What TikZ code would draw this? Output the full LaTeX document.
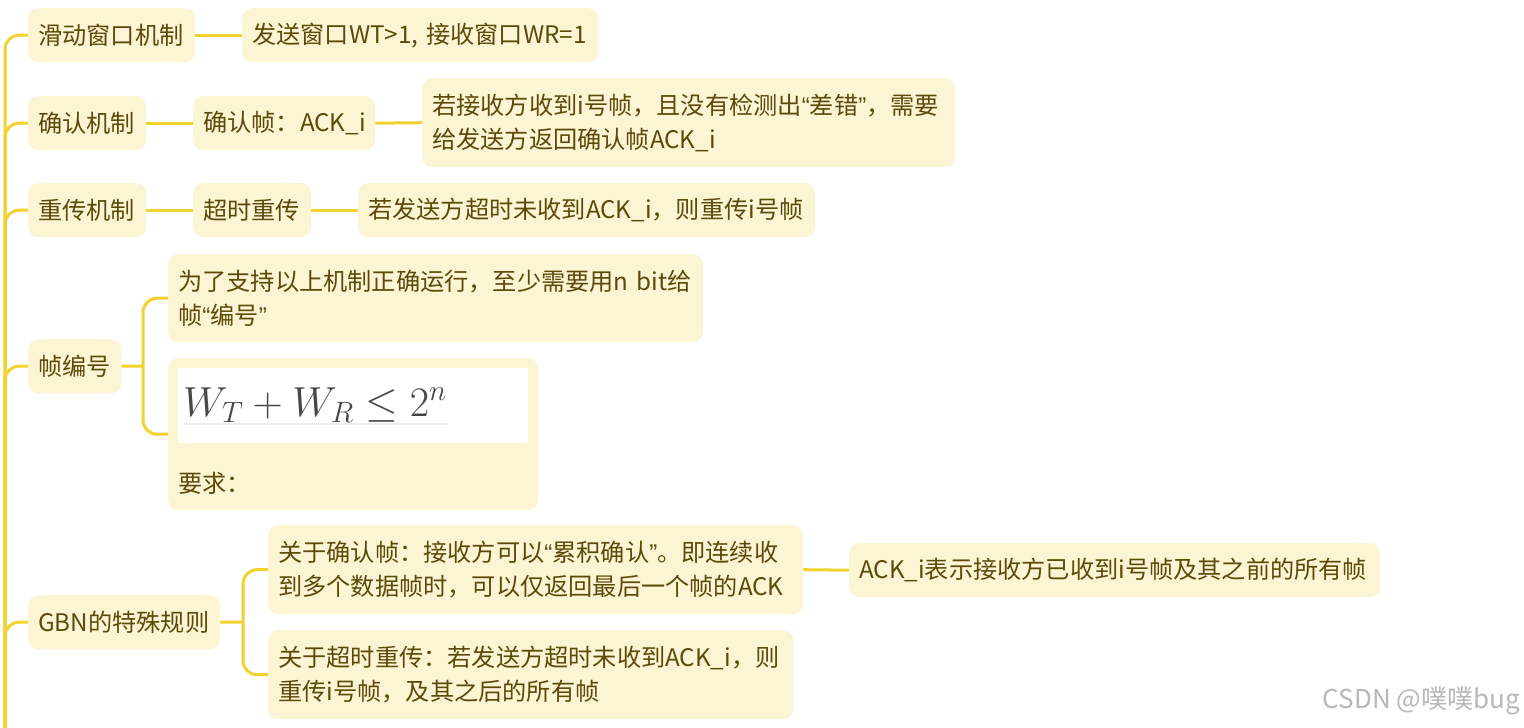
\RequirePackage{fix-cm}
\documentclass[tikz,border=0pt]{standalone}
\usepackage{fontspec}
\setmainfont{Noto Sans CJK SC}
\newfontfamily\latinq{Liberation Sans}
\definecolor{boxfill}{HTML}{FCF5D4}
\definecolor{linecol}{HTML}{F2D22E}
\definecolor{textcol}{HTML}{5C4A0A}
\definecolor{mathcol}{HTML}{474747}
\newcommand{\myLq}{{\latinq “}}
\newcommand{\myRq}{{\latinq ”}}
\tikzset{
  box/.style={rectangle, rounded corners=10pt, fill=boxfill, text=textcol,
    inner xsep=10pt, inner ysep=0pt, align=left, anchor=north west,
    font=\fontsize{24.2}{34}\selectfont},
  conn/.style={draw=linecol, line width=3pt},
}
\begin{document}
\begin{tikzpicture}[x=1pt,y=-1pt]
\useasboundingbox (0,0) rectangle (1524,728);
\fill[white] (0,0) rectangle (1524,728);

% level 1
\node[box, text width=147pt, minimum height=54pt] (n1) at (28,8) {滑动窗口机制};
\node[box, text width=98pt, minimum height=54pt] (n2) at (28,96) {确认机制};
\node[box, text width=98pt, minimum height=54pt] (n3) at (28,183) {重传机制};
\node[box, text width=73pt, minimum height=54pt] (n4) at (28,339) {帧编号};
\node[box, text width=172pt, minimum height=54pt] (n5) at (28,595) {GBN的特殊规则};

% level 2/3
\node[box, text width=336pt, minimum height=54pt] (n1a) at (242,8) {发送窗口WT>1,~接收窗口WR=1};
\node[box, text width=162pt, minimum height=54pt] (n2a) at (193,96) {确认帧：ACK\_i};
\node[box, text width=513pt, minimum height=89pt] (n2b) at (422,78) {若接收方收到i号帧，且没有检测出\myLq 差错\myRq ，需要\\给发送方返回确认帧ACK\_i};
\node[box, text width=98pt, minimum height=54pt] (n3a) at (193,183) {超时重传};
\node[box, text width=437pt, minimum height=54pt] (n3b) at (358,183) {若发送方超时未收到ACK\_i，则重传i号帧};
\node[box, text width=515pt, minimum height=88pt] (n4a) at (168,254) {为了支持以上机制正确运行，至少需要用n~bit给\\帧\myLq 编号\myRq};
\node[box, minimum width=370pt, minimum height=152pt] (n4b) at (168,358) {};
\node[anchor=north west, fill=white, minimum width=350pt, minimum height=75pt, inner sep=0pt] (n4bimg) at (178,368) {};
\node[anchor=base west, inner sep=0pt, text=mathcol, font=\fontsize{42}{44}\selectfont] (n4bf) at (183,416) {$W_T + W_R \leq 2^n$};
\draw[black!7, line width=2pt] (n4bf.south west) ++(0,1) coordinate (ul1) -- (ul1 -| n4bf.south east);
\node[anchor=west, inner sep=0pt, text=textcol, font=\fontsize{24.2}{34}\selectfont] (n4bt) at (178,483) {要求：};
\node[box, text width=515pt, minimum height=89pt] (n5a) at (268,525) {关于确认帧：接收方可以\myLq 累积确认\myRq 。即连续收\\到多个数据帧时，可以仅返回最后一个帧的ACK};
\node[box, text width=505pt, minimum height=89pt] (n5b) at (268,630) {关于超时重传：若发送方超时未收到ACK\_i，则\\重传i号帧，及其之后的所有帧};
\node[box, text width=511pt, minimum height=54pt] (n5c) at (849,543) {ACK\_i表示接收方已收到i号帧及其之前的所有帧};

% trunk
\coordinate (tb) at (5,728);
\foreach \n in {n1,n2,n3,n4,n5}
  \draw[conn, rounded corners=14pt] (tb) |- (\n.west);

% connectors
\draw[conn] (n1.east) -- (n1a.west);
\draw[conn] (n2.east) -- (n2a.west);
\draw[conn] (n2a.east) -- (n2b.west);
\draw[conn] (n3.east) -- (n3a.west);
\draw[conn] (n3a.east) -- (n3b.west);
\coordinate (b4) at (143,366);
\draw[conn] (n4.east) -- (b4);
\draw[conn, rounded corners=14pt] (b4) |- (n4a.west);
\draw[conn, rounded corners=14pt] (b4) |- (n4b.west);
\coordinate (b5) at (243,622);
\draw[conn] (n5.east) -- (b5);
\draw[conn, rounded corners=14pt] (b5) |- (n5a.west);
\draw[conn, rounded corners=14pt] (b5) |- (n5b.west);
\draw[conn] (n5a.east) -- (n5c.west);

% watermark
\node[anchor=east, inner sep=0pt, text=black!28, font=\fontsize{26}{28}\selectfont] (wm) at (1520,701) {CSDN @噗噗bug};
\end{tikzpicture}
\end{document}
